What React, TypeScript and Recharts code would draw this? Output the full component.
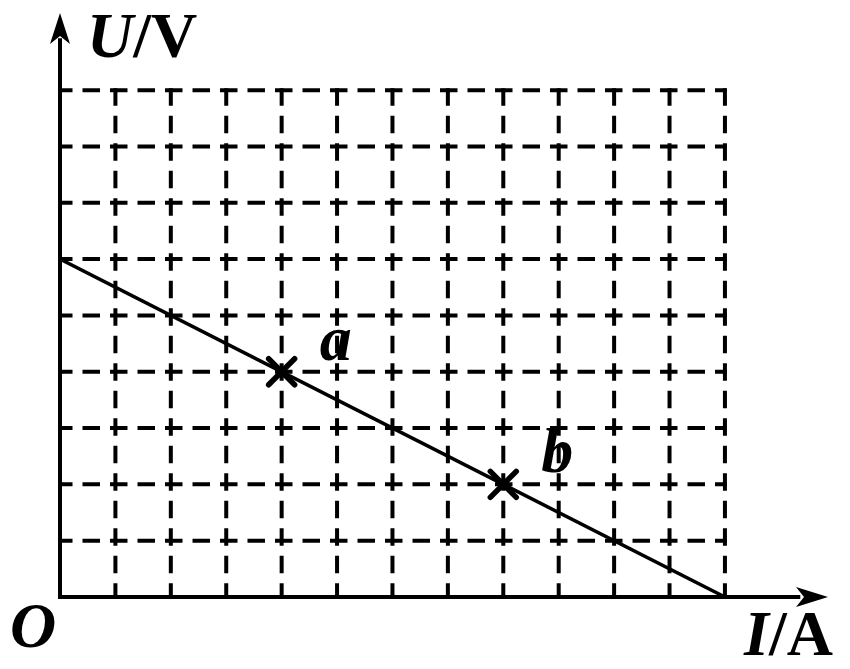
import React from 'react';
import { ComposedChart, XAxis, YAxis, Line, Scatter, ReferenceLine, ReferenceDot } from 'recharts';

// grid positions (units of the chart)
const gridCurrents = [1, 2, 3, 4, 5, 6, 7, 8, 9, 10, 11, 12];
const gridVoltages = [1, 2, 3, 4, 5, 6, 7, 8, 9];
// the straight U-I line
const lineCurrents = [0, 12];
const lineVoltages = [6, 0];
// marked points
const pointNames = ['a', 'b'];
const pointCurrents = [4, 8];
const pointVoltages = [4, 2];
// axis texts
const xVar = 'I';
const xUnit = '/A';
const yVar = 'U';
const yUnit = '/V';
const originLabel = 'O';
// axis extents (arrow tips)
const xMax = 13.86;
const yMax = 10.37;
const gridXMax = 12;
const gridYMax = 9;

const FONT = '"Liberation Serif", "Times New Roman", serif';

const lineData = lineCurrents.map((I, i) => ({ I, U: lineVoltages[i] }));
const pointData = pointNames.map((name, i) => ({ I: pointCurrents[i], U: pointVoltages[i], name }));

const CrossShape = (props: any) => {
  const { cx, cy, payload } = props;
  const s = 13;
  return (
    <g>
      <line x1={cx - s} y1={cy - s} x2={cx + s} y2={cy + s} stroke="#000" strokeWidth={5.5} strokeLinecap="round" />
      <line x1={cx - s} y1={cy + s} x2={cx + s} y2={cy - s} stroke="#000" strokeWidth={5.5} strokeLinecap="round" />
      <text x={cx + 38} y={cy - 12} fontFamily={FONT} fontWeight="bold" fontStyle="italic" fontSize={64} fill="#000">
        {payload.name}
      </text>
    </g>
  );
};

const XArrow = (props: any) => {
  const { cx, cy } = props;
  return (
    <g>
      <polygon points={`${cx},${cy} ${cx - 32},${cy - 10} ${cx - 24},${cy} ${cx - 32},${cy + 10}`} fill="#000" />
      <text x={cx - 84} y={cy + 58} fontFamily={FONT} fontWeight="bold" fontSize={64} fill="#000">
        <tspan fontStyle="italic">{xVar}</tspan>
        <tspan>{xUnit}</tspan>
      </text>
    </g>
  );
};

const YArrow = (props: any) => {
  const { cx, cy } = props;
  return (
    <g>
      <polygon points={`${cx},${cy} ${cx - 10},${cy + 31} ${cx},${cy + 23} ${cx + 10},${cy + 31}`} fill="#000" />
      <text x={cx + 27} y={cy + 44} fontFamily={FONT} fontWeight="bold" fontSize={64} fill="#000">
        <tspan fontStyle="italic">{yVar}</tspan>
        <tspan>{yUnit}</tspan>
      </text>
    </g>
  );
};

const OriginShape = (props: any) => {
  const { cx, cy } = props;
  return (
    <text x={cx - 50} y={cy + 50} fontFamily={FONT} fontWeight="bold" fontStyle="italic" fontSize={64} fill="#000">
      {originLabel}
    </text>
  );
};

export default function App() {
  return (
    <div style={{ position: 'absolute', left: 0, top: 0, width: 850, height: 669, background: '#fff' }}>
      <ComposedChart width={850} height={669} margin={{ top: 13, right: 22, bottom: 72, left: 60 }}>
        <XAxis type="number" dataKey="I" domain={[0, xMax]} hide allowDataOverflow />
        <YAxis type="number" dataKey="U" domain={[0, yMax]} hide allowDataOverflow />
        {gridVoltages.map((v) => (
          <ReferenceLine
            key={'h' + v}
            segment={[{ x: 0, y: v }, { x: gridXMax + 0.03, y: v }]}
            stroke="#000"
            strokeWidth={4}
            strokeDasharray="17.5 10"
            strokeDashoffset={5}
            ifOverflow="visible"
          />
        ))}
        {gridCurrents.map((c) => (
          <ReferenceLine
            key={'v' + c}
            segment={[{ x: c, y: gridYMax + 0.035 }, { x: c, y: 0 }]}
            stroke="#000"
            strokeWidth={4}
            strokeDasharray="17.5 10"
            ifOverflow="visible"
          />
        ))}
        <ReferenceLine segment={[{ x: -0.036, y: 0 }, { x: xMax - 0.5, y: 0 }]} stroke="#000" strokeWidth={4} ifOverflow="visible" />
        <ReferenceLine segment={[{ x: 0, y: 0 }, { x: 0, y: yMax - 0.45 }]} stroke="#000" strokeWidth={4} ifOverflow="visible" />
        <Line
          data={lineData}
          dataKey="U"
          type="linear"
          stroke="#000"
          strokeWidth={3.5}
          dot={false}
          activeDot={false}
          isAnimationActive={false}
        />
        <Scatter data={pointData} dataKey="U" shape={CrossShape} isAnimationActive={false} />
        <ReferenceDot x={xMax} y={0} r={0} shape={XArrow} ifOverflow="visible" />
        <ReferenceDot x={0} y={yMax} r={0} shape={YArrow} ifOverflow="visible" />
        <ReferenceDot x={0} y={0} r={0} shape={OriginShape} ifOverflow="visible" />
      </ComposedChart>
    </div>
  );
}
